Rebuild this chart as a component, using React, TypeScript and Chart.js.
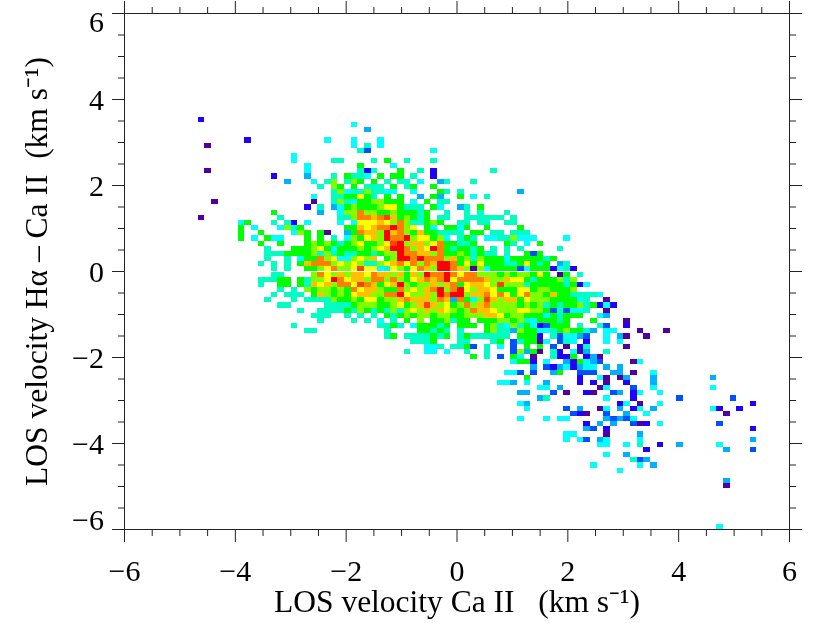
import { useEffect, useRef } from "react"
import { Chart, registerables } from "chart.js"

Chart.register(...registerables)

// 2D histogram: 100 x 100 bins between -6 and 6 on both axes
const binCount = 100
const axisMin = -6
const axisMax = 6

// count class per character, "." is an empty bin
const levelKeys = "123456789abcde"
const levelColors = [
  "#5000a0", "#2000ff", "#0050ff", "#00b0ff", "#00ffff", "#00ffc0", "#00ff00",
  "#80ff00", "#c0ff00", "#ffff00", "#ffc000", "#ff8000", "#ff4000", "#ff0000",
]

// [bin row counted from the top, first bin column, classes]
const histogramRows: [number, number, string][] = [
  [20, 11, "2"],
  [21, 34, "5"],
  [22, 36, "4"],
  [24, 18, "2...........5...5...5"],
  [25, 12, "1.....................5.6.5"],
  [26, 35, "63.........5"],
  [27, 25, "5"],
  [28, 25, "5.....66....6.7..6...6"],
  [29, 27, "5.......7....5"],
  [30, 12, "1..............5.......626...7..6.2........6"],
  [31, 22, "2....4...6.7665.7.77.6..2"],
  [32, 24, "4...5.68.687.7.6.66.5..46...6"],
  [33, 29, "6.87.7.666.7.67..7"],
  [34, 31, "6856686655..5...76.6........4"],
  [35, 28, "5..6677a76.7.7..4.74..7.5.6"],
  [36, 13, "1..............1..68657788777.5.7.66"],
  [37, 27, "2.6.45787778aa7666.75..46.7"],
  [38, 22, "7......4..588c8877877767..6..6.6...6"],
  [39, 11, "1...........6........668ccbcdb78767.66..666666.6"],
  [40, 17, "57...6.62.5....5.5aaaba8c866787..66.66..66"],
  [41, 17, "7.5...5867......77babccec8a.75.7757..7....7"],
  [42, 17, "7..7....587.71..47cbb8ebc87b776666.77.66.666"],
  [43, 17, "7.5.755...7.7.6.587ab8ecce8aa785.676.55668555....5"],
  [44, 20, "7..7...78787678a778ade8bb8ac77667....76.5.7"],
  [45, 21, "6...7778a75777878abeec8baec767767.6.6.6.....6"],
  [46, 21, "66677778686766776788eccbb8c77876766.6..737"],
  [47, 21, "6..6.577c8a558a8b.78eececcc8b786877757777767"],
  [48, 20, "6.6.6.7bccc8a8a8668abcac8cbeec7a7a777667a767.46"],
  [49, 22, "6.6..778ac88adaa56a87acb8eecb81857777357772562"],
  [50, 22, "66....8ca8b8bbacbb8b7b8eccecacc888787887a7.17.6"],
  [51, 20, "66677.7688aecabb8cc8c87abcbceaccccb88baa76777868"],
  [52, 20, "6..77.76bab8ccadcb7abe8788b8bc7abba8d8886777776725"],
  [53, 23, "6.6.8788787cabb877c8a8bce8cea8bba777aa7887778"],
  [54, 22, "6.666.7b8787abb88ccea88b8ecee8bbcaca7ac887b7766665"],
  [55, 21, "6...6.666687787aa788bcbbb8cb4c758db8bb7a888777756..1"],
  [56, 23, "66.....66667888778a78bdb8a78c8bc8888787867677867252"],
  [57, 26, "6..66667687676868a8b8ba878cbba888aa887363556..1"],
  [58, 28, "666..6.6.6.767878878877888bba788777576777..54"],
  [59, 29, "6....6.6.5.6.7.8.778677.77788786577767...7....1"],
  [60, 25, "6............6676.577767.777.7865867523777.6..63..2"],
  [61, 27, "66..........6....77676.6...78664877556787764.55...1...1"],
  [62, 39, "67.6666767.67666666.7772.635543..5.41..1"],
  [63, 43, "6667...66...67.367715.365.2..5.5"],
  [64, 45, "556.6673.6.5.3.7.7.3.1.26.....1"],
  [65, 42, "6..55.5..6..6...38471.62.514..6"],
  [66, 52, "7.6.3.75.1..6227.241"],
  [67, 58, "5772.5..427543....15"],
  [68, 61, "4.32452455.4.4"],
  [69, 57, "553.3..47..333..44.1..5"],
  [70, 60, "7.......2..51.14...4........4"],
  [71, 56, "554.5..4....2.2.1..2...4"],
  [72, 62, "55.4.....15...3..5........5"],
  [73, 59, "44...3.1..21..34.25..5"],
  [74, 62, "46........5...2......3.......3"],
  [75, 59, "54.............25.1..5.............2"],
  [76, 60, "5.....3.4..15.4.25.4........52..2"],
  [77, 67, "321..3..4..5...........1"],
  [78, 59, "5...5.55.....43435"],
  [79, 69, "2.4.4..312.5........3"],
  [80, 69, "43.2.....................2"],
  [81, 66, "55....1....4"],
  [82, 66, "5.53.45....5................4"],
  [83, 71, "55..5.6..2..4.....5"],
  [84, 78, "2...........4...3"],
  [85, 72, "5..4"],
  [86, 76, "634"],
  [87, 70, "5......5.4"],
  [88, 74, "5"],
  [90, 90, "4"],
  [91, 90, "1"],
  [99, 89, "5"],
]

const tickValues = [
  -6, -5.5, -5, -4.5, -4, -3.5, -3, -2.5, -2, -1.5, -1, -0.5, 0,
  0.5, 1, 1.5, 2, 2.5, 3, 3.5, 4, 4.5, 5, 5.5, 6,
]
const labelValues = [-6, -4, -2, 0, 2, 4, 6]
const xTitle = "LOS velocity Ca II   (km s⁻¹)"
const yTitle = "LOS velocity Hα – Ca II  (km s⁻¹)"

const fontFamily = '"Liberation Serif", serif'
const inkColor = "#222222"

const binSize = (axisMax - axisMin) / binCount

const cells: { x: number; y: number; level: number }[] = []
histogramRows.forEach(([row, start, levels]) => {
  Array.from(levels).forEach((key, i) => {
    const level = levelKeys.indexOf(key)
    if (level < 0) return
    cells.push({
      x: axisMin + (start + i + 0.5) * binSize,
      y: axisMax - (row + 0.5) * binSize,
      level,
    })
  })
})

const heatmapPlugin = {
  id: "heatmapCells",
  beforeDatasetsDraw(chart: any) {
    const { ctx, scales } = chart
    cells.forEach((cell) => {
      const left = Math.round(scales.x.getPixelForValue(cell.x - binSize / 2))
      const right = Math.round(scales.x.getPixelForValue(cell.x + binSize / 2))
      const top = Math.round(scales.y.getPixelForValue(cell.y + binSize / 2))
      const bottom = Math.round(scales.y.getPixelForValue(cell.y - binSize / 2))
      ctx.fillStyle = levelColors[cell.level]
      ctx.fillRect(left, top, right - left, bottom - top)
    })
  },
}

// Ticks stick out of the frame on all four sides, long on even values
const framePlugin = {
  id: "frameTicks",
  afterDraw(chart: any) {
    const { ctx, chartArea, scales } = chart
    const { left, right, top, bottom } = chartArea
    ctx.save()
    ctx.strokeStyle = inkColor
    ctx.lineWidth = 1
    ctx.beginPath()
    ctx.rect(left, top, right - left, bottom - top)
    tickValues.forEach((value) => {
      const size = value % 2 === 0 ? 12.5 : 6.5
      const px = scales.x.getPixelForValue(value)
      ctx.moveTo(px, bottom)
      ctx.lineTo(px, bottom + size)
      ctx.moveTo(px, top)
      ctx.lineTo(px, top - size)
      const py = scales.y.getPixelForValue(value)
      ctx.moveTo(left, py)
      ctx.lineTo(left - size, py)
      ctx.moveTo(right, py)
      ctx.lineTo(right + size, py)
    })
    ctx.stroke()

    ctx.fillStyle = "#000000"
    ctx.font = `30px ${fontFamily}`
    ctx.textBaseline = "alphabetic"
    labelValues.forEach((value) => {
      const text = String(value).replace("-", "−")
      ctx.textAlign = "center"
      ctx.fillText(text, scales.x.getPixelForValue(value), 581)
      ctx.textAlign = "right"
      let py = scales.y.getPixelForValue(value)
      if (value === 6) py += 8
      if (value === -6) py -= 10
      ctx.fillText(text, 104, py + 10)
    })
    ctx.restore()
  },
}

export default function App() {
  const chartRef = useRef<HTMLCanvasElement>(null)

  useEffect(() => {
    if (!chartRef.current) return
    const chart = new Chart(chartRef.current, {
      type: "scatter",
      data: {
        datasets: [{ data: cells, pointRadius: 0, parsing: { xAxisKey: "x", yAxisKey: "y" } } as any],
      },
      options: {
        animation: false,
        responsive: false,
        devicePixelRatio: 1,
        layout: { padding: { left: 0, top: 13.5, right: 40.5, bottom: 0 } },
        plugins: { legend: { display: false }, tooltip: { enabled: false } },
        scales: {
          x: {
            type: "linear",
            min: axisMin,
            max: axisMax,
            grid: { display: false },
            border: { display: false },
            ticks: { display: false },
            afterFit: (scale: any) => {
              scale.height = 93.5
            },
            title: {
              display: true,
              text: xTitle,
              color: "#000000",
              font: { family: fontFamily, size: 31.5 },
              padding: { top: 0, bottom: 0 },
            },
          },
          y: {
            type: "linear",
            min: axisMin,
            max: axisMax,
            grid: { display: false },
            border: { display: false },
            ticks: { display: false },
            afterFit: (scale: any) => {
              scale.width = 124.5
            },
            title: {
              display: true,
              text: yTitle,
              color: "#000000",
              font: { family: fontFamily, size: 31.5 },
              padding: { top: 20, bottom: 0 },
            },
          },
        },
      },
      plugins: [heatmapPlugin, framePlugin],
    })
    return () => chart.destroy()
  }, [])

  return (
    <div style={{ position: "fixed", left: 0, top: 0 }}>
      <canvas ref={chartRef} width={830} height={623} style={{ display: "block" }} />
    </div>
  )
}
